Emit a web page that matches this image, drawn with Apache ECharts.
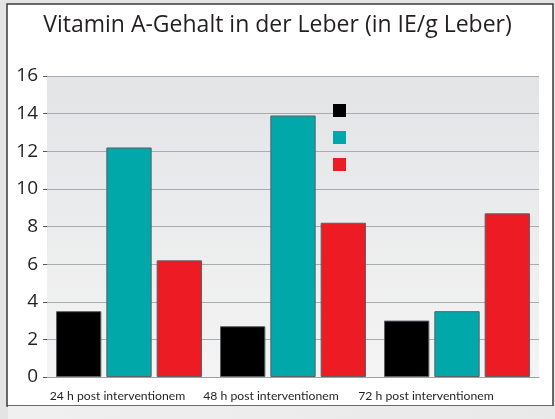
<!DOCTYPE html>
<html>
<head>
<meta charset="utf-8">
<script src="https://cdn.jsdelivr.net/npm/echarts@6/dist/echarts.min.js"></script>
<style>
html,body{margin:0;padding:0;background:#e4e4e5;}
#chart{width:555px;height:419px;}
</style>
</head>
<body>
<div id="chart"></div>
<script>
var categories=['24 h post interventionem','48 h post interventionem','72 h post interventionem'];
var seriesNames=['A','B','C'];
var black=[3.5,2.7,3.0];
var teal=[12.2,13.9,3.5];
var red=[6.2,8.2,8.7];
var yTicks=[0,2,4,6,8,10,12,14,16];

var colors=['#000000','#00a8aa','#ed1c24'];
var font='"Open Sans", "Noto Sans", sans-serif';
var labelShift=[23,44,62];   //labels sit left of the bar groups

var myChart=echarts.init(document.getElementById('chart'));
function bar(name,data,i){
    return {
        name:name,
        type:'bar',
        data:data,
        barGap:'11%',
        barCategoryGap:'11%',
        itemStyle:{color:colors[i],borderColor:'#5a6068',borderWidth:1},
        z:3
    };
}
var rich={};
for (var i=0;i<labelShift.length;i++){
    rich['a'+i]={fontFamily:'Lato, "Open Sans", sans-serif',fontSize:12.2,color:'#231f20',padding:[0,labelShift[i],0,0]};
}
var option={
    animation:false,
    color:colors,
    title:{
        text:'Vitamin A-Gehalt in der Leber (in IE/g Leber)',
        left:'center',
        top:9,
        textStyle:{fontFamily:font,fontSize:23,fontWeight:'normal',color:'#231f20'}
    },
    graphic:[
        {type:'rect',shape:{x:0,y:0,width:555,height:419},style:{fill:'#e4e4e5'},z:-10},
        {type:'rect',shape:{x:7,y:4,width:546,height:402},style:{fill:'#ffffff',stroke:'#3a3a3a',lineWidth:1.5},z:-9},
        {type:'rect',shape:{x:8,y:406,width:547,height:13},style:{fill:new echarts.graphic.LinearGradient(0,0,1,0,[{offset:0,color:'#f0f0f1'},{offset:1,color:'#e9e9ea'}])},z:-8}
    ],
    legend:{
        orient:'vertical',
        left:333,
        top:104,
        padding:0,
        itemWidth:13,
        itemHeight:13,
        itemGap:14,
        icon:'rect',
        itemStyle:{borderWidth:0},
        textStyle:{fontSize:10,lineHeight:13},
        formatter:function(){return '';},
        data:seriesNames
    },
    grid:{left:47,right:16,top:76,bottom:42,containLabel:false,show:true,
        backgroundColor:new echarts.graphic.LinearGradient(0,0,0,1,[{offset:0,color:'#e3e4e6'},{offset:1,color:'#f4f4f4'}]),
        borderWidth:0},
    xAxis:{
        type:'category',
        data:categories,
        axisLine:{show:true,lineStyle:{color:'#a0a0a0',width:1}},
        axisTick:{show:false},
        axisLabel:{
            interval:0,margin:13,
            formatter:function(value,index){return '{a'+index+'|'+value+'}';},
            rich:rich
        }
    },
    yAxis:{
        type:'value',
        min:yTicks[0],
        max:yTicks[yTicks.length-1],
        interval:2,
        axisLine:{show:false},
        axisTick:{show:true,length:4,lineStyle:{color:'#555'}},
        splitLine:{lineStyle:{color:'#a9abae',width:1}},
        axisLabel:{fontFamily:font,fontSize:19,color:'#231f20',margin:9}
    },
    series:[bar(seriesNames[0],black,0),bar(seriesNames[1],teal,1),bar(seriesNames[2],red,2)]
};
option && myChart.setOption(option);
</script>
</body>
</html>
